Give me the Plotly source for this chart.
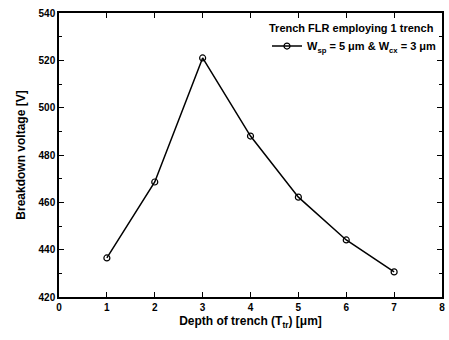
import plotly.graph_objects as go

depth_um = [1, 2, 3, 4, 5, 6, 7]
breakdown_v = [436.5, 468.6, 521.0, 488.0, 462.2, 444.1, 430.6]
x_ticks = [0, 1, 2, 3, 4, 5, 6, 7, 8]
y_ticks = [420, 440, 460, 480, 500, 520, 540]

FONT = "Liberation Sans, Arial"

fig = go.Figure()
fig.add_trace(go.Scatter(
    x=depth_um, y=breakdown_v, mode="lines+markers",
    name="<b>W<sub>sp</sub> = 5 μm & W<sub>cx</sub> = 3 μm</b>",
    line=dict(color="black", width=1.5),
    marker=dict(symbol="circle-open", size=6, color="black", line=dict(width=1.2)),
))

axis_common = dict(
    showgrid=False, zeroline=False, showline=True, linecolor="black", linewidth=1.5,
    mirror="ticks", ticks="inside", ticklen=5, tickwidth=1, tickcolor="black",
    tickfont=dict(family=FONT, size=10, color="black", weight="bold"),
)
fig.update_xaxes(
    range=[0, 8], tickvals=x_ticks, **axis_common,
    title=dict(text="<b>Depth of trench (T<sub>tr</sub>) [μm]</b>", standoff=5,
               font=dict(family=FONT, size=12, color="black")),
)
fig.update_yaxes(
    range=[420, 540], tickvals=y_ticks, **axis_common,
    minor=dict(ticks="inside", ticklen=3, dtick=10, tickcolor="black"),
    title=dict(text="<b>Breakdown voltage [V]</b>", standoff=10,
               font=dict(family=FONT, size=12, color="black")),
)
fig.update_layout(
    width=449, height=340,
    margin=dict(l=59, r=4, t=13, b=43),
    plot_bgcolor="white", paper_bgcolor="white",
    showlegend=True,
    legend=dict(
        x=1.0, y=0.985, xanchor="right", yanchor="top",
        bgcolor="rgba(0,0,0,0)",
        title=dict(text="<b>Trench FLR employing 1 trench</b>",
                   font=dict(family=FONT, size=11, color="black")),
        font=dict(family=FONT, size=11, color="black"),
        itemwidth=30, tracegroupgap=0,
    ),
)
fig.write_html("out.html")
